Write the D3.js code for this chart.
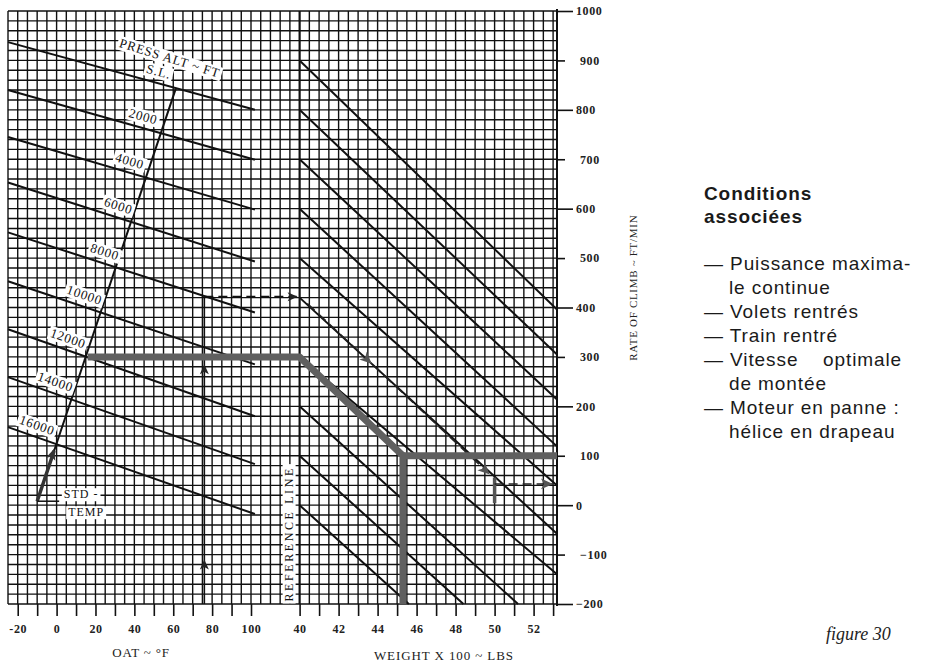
<!DOCTYPE html>
<html>
<head>
<meta charset="utf-8">
<script src="https://cdn.jsdelivr.net/npm/d3@7"></script>
<style>
  body { margin: 0; background: #fff; }
  svg { display: block; }
</style>
</head>
<body>
<svg id="chart" width="933" height="664"></svg>
<script>
// ---- values ----
const rocTicks = [-200, -100, 0, 100, 200, 300, 400, 500, 600, 700, 800, 900, 1000];
const oatTicks = [-20, -10, 0, 10, 20, 30, 40, 50, 60, 70, 80, 90, 100];
const weightTicks = [40, 41, 42, 43, 44, 45, 46, 47, 48, 49, 50, 51, 52, 53];

// pressure altitude lines: rate of climb at OAT -25 and at OAT 102
const altLabels = ['S.L.', '2000', '4000', '6000', '8000', '10000', '12000', '14000', '16000'];
const altRocLeft = [937, 840, 745, 653, 552, 453, 356, 259, 158];
const altRocRight = [800, 699, 598, 493, 390, 285, 180, 83, -18];
const altLabelOat = [51, 43, 36, 30, 23, 12.5, 4, -2.5, -12];

// weight guide lines: start on the reference line (weight 40), end on the edge
const weightStartRoc = [900, 800, 700, 600, 500, 420, 300, 200, 100, 0];
const weightEndW = [53.2, 53.2, 53.2, 53.2, 53.2, 53.2, 53.2, 51.2, 48.4, 45.6];
const weightEndRoc = [396, 305, 214, 119, 40, -58, -140, -200, -200, -200];

// standard temperature line (OAT, ROC)
const stdTempOat = [61.4, -10];
const stdTempRoc = [844, 8];

// worked example (thick grey): OAT 16 F / 12000 ft -> 300 ft/min, weight 4530 lb -> 100 ft/min
const exOat = 16, exRoc = 300, exWeight = 45.3, exResult = 100;
// second example (thin): OAT 76 F / 8000 ft -> 422 ft/min, weight 5000 lb -> 43 ft/min
const ex2Oat = 76, ex2Roc = 422, ex2Weight = 50, ex2Result = 43;

const conditions = [
  ['— Puissance maxima-', 'le continue'],
  ['— Volets rentrés'],
  ['— Train rentré'],
  ['— Vitesse    optimale', 'de montée'],
  ['— Moteur en panne :', 'hélice en drapeau']
];

// ---- scales ----
const svg = d3.select('#chart');
const serif = '"Liberation Serif", "DejaVu Serif", serif';
const sans = '"Liberation Sans", "DejaVu Sans", sans-serif';

const y = d3.scaleLinear().domain([-200, 1000]).range([604, 11]);
const xT = d3.scaleLinear().domain([-25, 100]).range([8, 251]);
const xW = d3.scaleLinear().domain([40, 53.2]).range([xT(125), 557]);

const gridTop = y(1000), gridBottom = y(-200), gridLeft = xT(-25), gridRight = xW(53.2);

// ---- grid ----
const grid = svg.append('g').attr('class', 'grid')
  .attr('stroke', '#111').attr('stroke-width', 1.4);

grid.selectAll('line.h')
  .data(d3.range(-200, 1001, 20))
  .enter().append('line')
  .attr('class', 'h')
  .attr('x1', gridLeft).attr('x2', gridRight)
  .attr('y1', d => y(d)).attr('y2', d => y(d));

grid.selectAll('line.vt')
  .data(d3.range(-25, 121, 5))
  .enter().append('line')
  .attr('class', 'vt')
  .attr('x1', d => xT(d)).attr('x2', d => xT(d))
  .attr('y1', gridTop).attr('y2', gridBottom);

grid.selectAll('line.vw')
  .data(d3.range(40, 53.01, 0.5))
  .enter().append('line')
  .attr('class', 'vw')
  .attr('x1', d => xW(d)).attr('x2', d => xW(d))
  .attr('y1', gridTop).attr('y2', gridBottom);

// reference line and right edge
svg.append('line')
  .attr('x1', xW(40)).attr('x2', xW(40)).attr('y1', gridTop).attr('y2', gridBottom)
  .attr('stroke', '#111').attr('stroke-width', 2);
svg.append('line')
  .attr('x1', gridRight).attr('x2', gridRight).attr('y1', gridTop - 2).attr('y2', gridBottom + 2)
  .attr('stroke', '#111').attr('stroke-width', 2);

// ---- pressure altitude lines ----
svg.append('g').selectAll('line')
  .data(altLabels)
  .enter().append('line')
  .attr('x1', xT(-25)).attr('x2', xT(102))
  .attr('y1', (d, i) => y(altRocLeft[i]))
  .attr('y2', (d, i) => y(altRocRight[i]))
  .attr('stroke', '#111').attr('stroke-width', 2);

// ---- weight lines ----
svg.append('g').selectAll('line')
  .data(weightStartRoc)
  .enter().append('line')
  .attr('x1', xW(40)).attr('y1', d => y(d))
  .attr('x2', (d, i) => xW(weightEndW[i]))
  .attr('y2', (d, i) => y(weightEndRoc[i]))
  .attr('stroke', '#111').attr('stroke-width', 2);

// ---- arrow head helper ----
function arrowHead(g, px, py, angle, size, color) {
  g.append('path')
    .attr('d', `M0,0 L${-size},${-size * 0.45} L${-size * 0.75},0 L${-size},${size * 0.45} Z`)
    .attr('transform', `translate(${px},${py}) rotate(${angle})`)
    .attr('fill', color);
}
function angleOf(x1, y1, x2, y2) {
  return Math.atan2(y2 - y1, x2 - x1) * 180 / Math.PI;
}

// ---- standard temperature line ----
svg.append('line')
  .attr('x1', xT(stdTempOat[0])).attr('y1', y(stdTempRoc[0]))
  .attr('x2', xT(stdTempOat[1])).attr('y2', y(stdTempRoc[1]))
  .attr('stroke', '#111').attr('stroke-width', 2);

// dark arrow on the foot of the standard temperature line
const stdT = (stdTempRoc[0] - 110) / (stdTempRoc[0] - stdTempRoc[1]);
const stdTail = [xT(stdTempOat[1]), y(stdTempRoc[1])];
const stdTip = [xT(stdTempOat[0] + (stdTempOat[1] - stdTempOat[0]) * stdT), y(110)];
svg.append('line')
  .attr('x1', stdTail[0]).attr('y1', stdTail[1])
  .attr('x2', stdTip[0]).attr('y2', stdTip[1])
  .attr('stroke', '#333').attr('stroke-width', 3.5);
arrowHead(svg, stdTip[0], stdTip[1] - 2, angleOf(stdTail[0], stdTail[1], stdTip[0], stdTip[1]), 11, '#333');
svg.append('line')
  .attr('x1', stdTail[0]).attr('x2', stdTail[0] + 22)
  .attr('y1', stdTail[1]).attr('y2', stdTail[1])
  .attr('stroke', '#111').attr('stroke-width', 1.5);

// ---- labels with white boxes ----
function boxedText(g, txt, size, spacing) {
  const t = g.append('text')
    .attr('text-anchor', 'middle')
    .attr('font-family', serif)
    .attr('font-size', size)
    .attr('letter-spacing', spacing || 0)
    .attr('fill', '#111')
    .text(txt);
  const bb = t.node().getBBox();
  g.insert('rect', 'text')
    .attr('x', bb.x - 2).attr('y', bb.y + 1)
    .attr('width', bb.width + 4).attr('height', bb.height - 1)
    .attr('fill', '#fff');
  return t;
}

const altAngle = i => angleOf(xT(-25), y(altRocLeft[i]), xT(102), y(altRocRight[i]));
altLabels.forEach((lab, i) => {
  const oat = altLabelOat[i];
  const roc = altRocLeft[i] + (altRocRight[i] - altRocLeft[i]) * (oat + 25) / 127;
  const g = svg.append('g')
    .attr('transform', `translate(${xT(oat)},${y(roc)}) rotate(${altAngle(i)}) translate(0,-7)`);
  boxedText(g, lab, 13, 0.8);
});

// PRESS ALT ~ FT title above the sea level line
{
  const oat = 54;
  const roc = altRocLeft[0] + (altRocRight[0] - altRocLeft[0]) * (oat + 25) / 127;
  const g = svg.append('g')
    .attr('transform', `translate(${xT(oat)},${y(roc)}) rotate(${altAngle(0) + 2}) translate(0,-23)`);
  boxedText(g, 'PRESS ALT ~ FT', 13, 0.8);
}

// STD TEMP label
{
  const g1 = svg.append('g').attr('transform', `translate(${stdTail[0] + 44},${stdTail[1] - 3})`);
  boxedText(g1, 'STD -', 12, 1);
  const g2 = svg.append('g').attr('transform', `translate(${stdTail[0] + 49},${stdTail[1] + 15})`);
  boxedText(g2, 'TEMP', 12, 1);
}

// REFERENCE LINE label
{
  const g = svg.append('g')
    .attr('transform', `translate(${xW(40) - 7},${y(-58)}) rotate(-90)`);
  boxedText(g, 'REFERENCE LINE', 12, 2.6);
}

// ---- second example (thin) ----
const ex2 = svg.append('g');
ex2.append('line')
  .attr('x1', xT(ex2Oat)).attr('x2', xT(ex2Oat))
  .attr('y1', y(-200)).attr('y2', y(ex2Roc))
  .attr('stroke', '#111').attr('stroke-width', 1.6);
arrowHead(ex2, xT(ex2Oat), y(-110), -90, 10, '#222');
arrowHead(ex2, xT(ex2Oat), y(285), -90, 10, '#222');
ex2.append('line')
  .attr('x1', xT(ex2Oat)).attr('x2', xW(40) - 3)
  .attr('y1', y(ex2Roc)).attr('y2', y(ex2Roc))
  .attr('stroke', '#111').attr('stroke-width', 1.6)
  .attr('stroke-dasharray', '9,5');
arrowHead(ex2, xW(40) - 2, y(ex2Roc), 0, 10, '#222');

const d1 = [xW(40.4), y(408)], d2 = [xW(49.6), y(68)];
ex2.append('line')
  .attr('x1', d1[0]).attr('y1', d1[1]).attr('x2', d2[0]).attr('y2', d2[1])
  .attr('stroke', '#222').attr('stroke-width', 1.5)
  .attr('stroke-dasharray', '10,5');
const dAng = angleOf(d1[0], d1[1], d2[0], d2[1]);
arrowHead(ex2, xW(43.7), y(408 - (408 - 68) * (43.7 - 40.4) / 9.2), dAng, 12, '#555');
arrowHead(ex2, d2[0] + 3, d2[1] + 3, dAng, 12, '#555');
ex2.append('line')
  .attr('x1', xW(ex2Weight)).attr('x2', xW(ex2Weight))
  .attr('y1', y(56)).attr('y2', y(4))
  .attr('stroke', '#555').attr('stroke-width', 3.5);
ex2.append('line')
  .attr('x1', xW(ex2Weight)).attr('x2', gridRight - 4)
  .attr('y1', y(ex2Result)).attr('y2', y(ex2Result))
  .attr('stroke', '#222').attr('stroke-width', 1.5)
  .attr('stroke-dasharray', '9,5');
arrowHead(ex2, gridRight - 4, y(ex2Result), 0, 12, '#555');

// ---- main worked example (thick grey) ----
const thick = d3.line().x(d => d[0]).y(d => d[1]);
svg.append('path')
  .attr('d', thick([
    [xT(exOat), y(exRoc)], [xW(40), y(exRoc)],
    [xW(exWeight), y(exResult)], [xW(exWeight), y(-200)]
  ]))
  .attr('fill', 'none').attr('stroke', '#606060').attr('stroke-width', 7)
  .attr('stroke-linejoin', 'round');
svg.append('path')
  .attr('d', thick([[xW(exWeight), y(exResult)], [gridRight, y(exResult)]]))
  .attr('fill', 'none').attr('stroke', '#606060').attr('stroke-width', 7);

// ---- axes ----
const axR = svg.append('g')
  .attr('transform', `translate(${gridRight},0)`)
  .call(d3.axisRight(y).tickValues(rocTicks).tickSize(14).tickPadding(6)
    .tickFormat(d3.format('d')));
axR.select('.domain').remove();
axR.selectAll('.tick line')
  .attr('stroke', '#111').attr('stroke-width', 1.6)
  .attr('x2', d => (d % 200 === 0 ? 16 : 8));
axR.selectAll('.tick text')
  .attr('x', d => (d % 200 === 0 ? 19 : 23))
  .attr('font-family', serif).attr('font-size', 12).attr('font-weight', 'bold')
  .attr('letter-spacing', 0.6).attr('fill', '#222');

const axT = svg.append('g')
  .attr('transform', `translate(0,${gridBottom})`)
  .call(d3.axisBottom(xT).tickValues(oatTicks).tickSize(12).tickPadding(8)
    .tickFormat(d => (d % 20 === 0 ? d : '')));
const axW = svg.append('g')
  .attr('transform', `translate(0,${gridBottom})`)
  .call(d3.axisBottom(xW).tickValues(weightTicks).tickSize(12).tickPadding(8)
    .tickFormat(d => (d % 2 === 0 ? d : '')));
[axT, axW].forEach(ax => {
  ax.select('.domain').remove();
  ax.selectAll('.tick line').attr('stroke', '#111').attr('stroke-width', 1.6);
  ax.selectAll('.tick text')
    .attr('font-family', serif).attr('font-size', 12).attr('font-weight', 'bold')
    .attr('letter-spacing', 0.6).attr('fill', '#222');
});

// axis titles
svg.append('text')
  .attr('x', 141).attr('y', 657)
  .attr('text-anchor', 'middle')
  .attr('font-family', serif).attr('font-size', 13).attr('letter-spacing', 0.8)
  .attr('fill', '#222')
  .text('OAT ~ °F');
svg.append('text')
  .attr('x', xW(47.4)).attr('y', 660)
  .attr('text-anchor', 'middle')
  .attr('font-family', serif).attr('font-size', 13).attr('letter-spacing', 0.9)
  .attr('fill', '#222')
  .text('WEIGHT X 100 ~ LBS');
svg.append('text')
  .attr('transform', `translate(637,${y(440)}) rotate(-90)`)
  .attr('text-anchor', 'middle')
  .attr('font-family', serif).attr('font-size', 11).attr('letter-spacing', 0.7)
  .attr('fill', '#222')
  .text('RATE OF CLIMB ~ FT/MIN');

// ---- side text ----
const sideX = 704;
const side = svg.append('g')
  .attr('font-family', sans).attr('fill', '#1a1a1a');
side.append('text').attr('x', sideX).attr('y', 200)
  .attr('font-size', 19).attr('font-weight', 'bold').attr('letter-spacing', 0.9)
  .text('Conditions');
side.append('text').attr('x', sideX).attr('y', 223)
  .attr('font-size', 19).attr('font-weight', 'bold').attr('letter-spacing', 0.9)
  .text('associées');
let lineY = 270;
conditions.forEach(item => {
  item.forEach((txt, j) => {
    side.append('text')
      .attr('x', j === 0 ? sideX : sideX + 25).attr('y', lineY)
      .attr('font-size', 19).attr('letter-spacing', 0.9)
      .attr('xml:space', 'preserve').style('white-space', 'pre')
      .text(txt);
    lineY += 24;
  });
});
svg.append('text')
  .attr('x', 826).attr('y', 640)
  .attr('font-family', serif).attr('font-style', 'italic').attr('font-size', 18)
  .attr('fill', '#222')
  .text('figure 30');
</script>
</body>
</html>
